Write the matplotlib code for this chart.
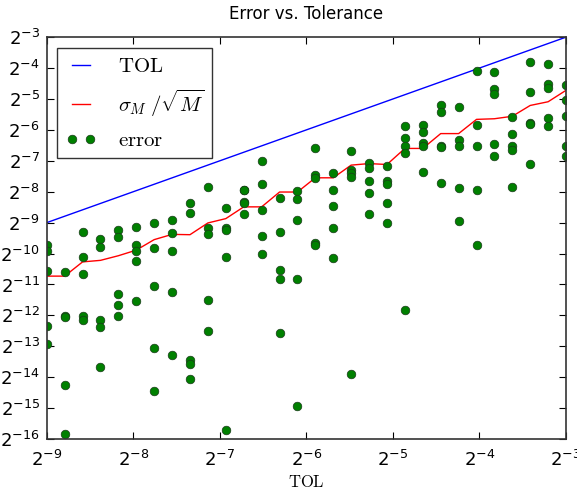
import numpy as np
import matplotlib.pyplot as plt
from matplotlib.font_manager import FontProperties
from matplotlib.ticker import NullLocator, LogLocator

plt.rcParams['axes.unicode_minus'] = False

# TOL grid (log2 exponents, 30 tolerances from 2^-9 to 2^-3)
tol_exp = [-9.000, -8.793, -8.586, -8.379, -8.172, -7.966, -7.759, -7.552,
           -7.345, -7.138, -6.931, -6.724, -6.517, -6.310, -6.103, -5.897,
           -5.690, -5.483, -5.276, -5.069, -4.862, -4.655, -4.448, -4.241,
           -4.034, -3.828, -3.621, -3.414, -3.207, -3.000]

# sigma_M / sqrt(M), log2
sigma_exp = [-10.73, -10.73, -10.27, -10.22, -10.07, -9.89, -9.55, -9.38,
             -9.39, -9.01, -8.87, -8.49, -8.49, -8.01, -8.01, -7.55,
             -7.55, -7.14, -7.09, -7.12, -6.60, -6.60, -6.12, -6.12,
             -5.66, -5.64, -5.56, -5.21, -5.09, -4.72]

# observed errors, 5 runs per tolerance, log2
error_exp = [
    [-9.73, -9.93, -10.58, -12.33, -12.94],
    [-10.61, -12.03, -12.06, -14.24, -15.85],
    [-9.29, -10.11, -10.66, -12.03, -12.14],
    [-9.54, -9.79, -12.14, -12.36, -13.67],
    [-9.25, -9.46, -11.31, -11.65, -12.02],
    [-9.15, -9.71, -9.93, -10.24, -11.54],
    [-9.00, -9.83, -11.04, -13.04, -14.46],
    [-8.91, -9.32, -9.91, -11.24, -13.27],
    [-8.37, -8.69, -13.45, -13.57, -14.06],
    [-7.84, -9.17, -9.38, -11.51, -12.50],
    [-8.52, -9.18, -9.23, -10.11, -15.71],
    [-7.93, -7.95, -8.33, -8.38, -8.73],
    [-7.00, -7.76, -8.58, -9.43, -10.00],
    [-8.19, -9.30, -10.52, -10.81, -12.56],
    [-7.99, -8.22, -8.93, -10.81, -14.92],
    [-6.58, -7.47, -7.57, -9.66, -9.73],
    [-7.41, -7.93, -8.47, -9.18, -10.13],
    [-6.69, -7.30, -7.41, -7.52, -13.88],
    [-7.07, -7.22, -7.64, -8.04, -8.72],
    [-7.16, -7.66, -7.76, -8.36, -9.01],
    [-5.88, -6.26, -6.53, -6.76, -11.81],
    [-5.83, -6.07, -6.44, -6.53, -7.36],
    [-5.20, -5.42, -6.51, -6.54, -7.72],
    [-5.27, -6.33, -6.52, -7.88, -8.95],
    [-4.09, -5.83, -6.52, -7.96, -9.72],
    [-4.14, -4.68, -4.84, -6.45, -6.86],
    [-5.57, -6.14, -6.52, -6.64, -7.84],
    [-3.81, -4.77, -5.77, -5.82, -7.09],
    [-3.86, -4.53, -4.63, -5.61, -5.89],
    [-4.55, -5.04, -5.54, -6.53, -6.86],
]

tol = 2.0 ** np.array(tol_exp)
sigma = 2.0 ** np.array(sigma_exp)
err = 2.0 ** np.array(error_exp)
tol_pts = np.repeat(tol, err.shape[1])

fig = plt.figure(figsize=(5.77, 4.95), dpi=100)
ax = fig.add_axes([0.081, 0.113, 0.9, 0.812])

ax.plot(tol, tol, color='b', lw=1, label=r'$\mathrm{TOL}$')
ax.plot(tol, sigma, color='r', lw=1, label=r'$\sigma_M\;/\sqrt{M}$')
ax.plot(tol_pts, err.ravel(), 'o', color='green', mec='#1a3a1a', mew=0.5,
        ms=6.2, label=r'$\mathrm{error}$')

ax.set_xscale('log', base=2)
ax.set_yscale('log', base=2)
ax.set_xlim(2.0 ** -9, 2.0 ** -3)
ax.set_ylim(2.0 ** -16, 2.0 ** -3)
ax.xaxis.set_major_locator(LogLocator(base=2, numticks=20))
ax.yaxis.set_major_locator(LogLocator(base=2, numticks=20))
ax.xaxis.set_minor_locator(NullLocator())
ax.yaxis.set_minor_locator(NullLocator())
ax.tick_params(direction='in', length=5, top=True, right=True, labelsize=13)
ax.tick_params(axis='x', pad=8)
ax.tick_params(axis='y', pad=5)
for s in ax.spines.values():
    s.set_color('#333333')
    s.set_linewidth(1.2)

ax.set_title('Error vs. Tolerance', fontsize=12, pad=13)
ax.set_xlabel(r'$\mathrm{TOL}$', fontsize=12, math_fontfamily='cm', labelpad=2)

leg = ax.legend(loc='upper left', numpoints=2, fancybox=False,
                prop=FontProperties(size=15, math_fontfamily='cm'),
                handlelength=1.5, handletextpad=1.0, borderpad=0.4,
                labelspacing=0.55, borderaxespad=0.5)
leg.get_frame().set_edgecolor('k')
leg.get_frame().set_linewidth(1.0)

fig.savefig('out.png', dpi=100)
